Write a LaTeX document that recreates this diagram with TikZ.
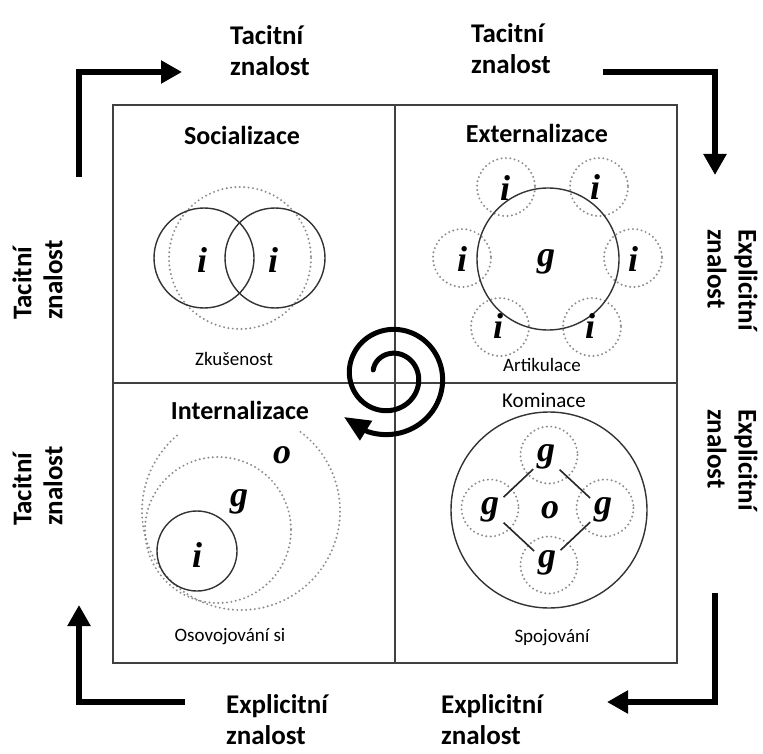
\documentclass[tikz,border=0pt]{standalone}
\usepackage{fontspec}
\newfontfamily\labelfont{Carlito}
\newfontfamily\letterfont{Liberation Serif}
\usetikzlibrary{arrows.meta}

\begin{document}
\begin{tikzpicture}[x=1pt,y=-1pt,
  outer/.style={font=\labelfont\bfseries\fontsize{27}{31}\selectfont, align=left, inner sep=0pt},
  quadtitle/.style={font=\labelfont\bfseries\fontsize{26}{30}\selectfont, inner sep=0pt},
  caption/.style={font=\labelfont\fontsize{19}{23}\selectfont, inner sep=0pt},
  var/.style={font=\letterfont\bfseries\itshape\fontsize{36}{36}\selectfont, inner sep=0pt},
  frame/.style={draw=black!75, line width=1.6pt},
  ring/.style={draw=black!80, line width=1.4pt},
  dotring/.style={draw=black!45, line width=2.2pt, line cap=round, dash pattern=on 0pt off 4.4pt},
  flow/.style={line width=6pt, -{Triangle[length=21pt,width=22pt]}},
  link/.style={draw=black!85, line width=1.6pt, shorten <=6pt, shorten >=5pt},
  spiralline/.style={line width=5pt, line cap=round, -{Triangle[length=26pt,width=22pt]}}
]
\useasboundingbox (0,0) rectangle (763,754);
\fill[white] (0,0) rectangle (763,754);

% ---- the four quadrants ----
\draw[frame] (113,105) rectangle (677,663);
\draw[frame] (395,105) -- (395,663);
\draw[frame] (113,383) -- (677,383);

% ---- Socializace ----
\node[quadtitle] (tS) at (242,135) {Socializace};
\draw[dotring] (240,258) circle[radius=71];
\draw[ring] (204,258) circle[radius=50];
\draw[ring] (275,258) circle[radius=50];
\node[var] (s1) at (202,260) {i};
\node[var] (s2) at (273,260) {i};
\node[caption] (cS) at (234,359) {Zkušenost};

% ---- Externalizace ----
\node[quadtitle] (tE) at (537,133) {Externalizace};
\foreach \px/\py in {506/187, 599/187, 462/258, 633/258, 500/327, 592/327}
  \draw[dotring] (\px,\py) circle[radius=29];
\draw[ring] (548,259) circle[radius=71];
\node[var] (e1) at (505,188) {i};
\node[var] (e2) at (595,187) {i};
\node[var] (e3) at (462,259) {i};
\node[var] (e4) at (633,259) {i};
\node[var] (e5) at (498,326) {i};
\node[var] (e6) at (590,326) {i};
\node[var] (eg) at (546,262) {g};
\node[caption] (cE) at (542,365) {Artikulace};

% ---- Internalizace ----
\node[quadtitle] (tI) at (240,410) {Internalizace};
\draw[dotring] (241,511) ++(-53:99) arc[start angle=-53, end angle=232, radius=99];
\draw[dotring] (218,530) circle[radius=73];
\draw[ring] (197,551) circle[radius=40];
\node[var] (ii) at (197,555) {i};
\node[var] (ig) at (239,502) {g};
\node[var] (io) at (282,455) {o};
\node[caption] (cI) at (230,637) {Osovojování si};

% ---- Kominace ----
\node[caption, font=\labelfont\fontsize{21}{25}\selectfont] (tK) at (544,400) {Kominace};
\draw[ring] (549,510) circle[radius=98];
\foreach \px/\py in {549/455, 490/508, 605/508, 549/565}
  \draw[dotring] (\px,\py) circle[radius=28.5];
\node[var] (gT) at (546,457) {g};
\node[var] (gL) at (490,510) {g};
\node[var] (gR) at (603,510) {g};
\node[var] (gB) at (547,563) {g};
\node[var] (ko) at (550,510) {o};
\draw[link] (gL) -- (gT);
\draw[link] (gT) -- (gR);
\draw[link] (gL) -- (gB);
\draw[link] (gB) -- (gR);
\node[caption] (cK) at (552,638) {Spojování};

% ---- knowledge spiral ----
\coordinate (spiraltip) at (344,417);
\draw[spiralline] plot[domain=200:832, samples=140, variable=\t]
  ({390+(22.5+6*(\t-270)/90)*cos(\t)}, {376+(22.5+6*(\t-270)/90)*sin(\t)}) -- (spiraltip);

% ---- outer labels ----
\node[outer] (lTL) at (270,51) {Tacitní\\znalost};
\node[outer] (lTR) at (511,49) {Tacitní\\znalost};
\node[outer] (lBL) at (277,720) {Explicitní\\znalost};
\node[outer] (lBR) at (492,720) {Explicitní\\znalost};
\node[outer, rotate=90] (lL1) at (37.5,280) {Tacitní\\znalost};
\node[outer, rotate=90] (lL2) at (37.5,486) {Tacitní\\znalost};
\node[outer, rotate=-90] (lR1) at (732.5,280) {Explicitní\\znalost};
\node[outer, rotate=-90] (lR2) at (732.5,460) {Explicitní\\znalost};

% ---- outer flow arrows ----
\coordinate (aTLs) at (79,177);  \coordinate (aTLe) at (182,72);
\coordinate (aTRs) at (603,72);  \coordinate (aTRe) at (715,175);
\coordinate (aBRs) at (715,593); \coordinate (aBRe) at (607,702);
\coordinate (aBLs) at (185,702); \coordinate (aBLe) at (79,605);
\draw[flow] (aTLs) |- (aTLe);
\draw[flow] (aTRs) -| (aTRe);
\draw[flow] (aBRs) |- (aBRe);
\draw[flow] (aBLs) -| (aBLe);
\end{tikzpicture}
\end{document}
